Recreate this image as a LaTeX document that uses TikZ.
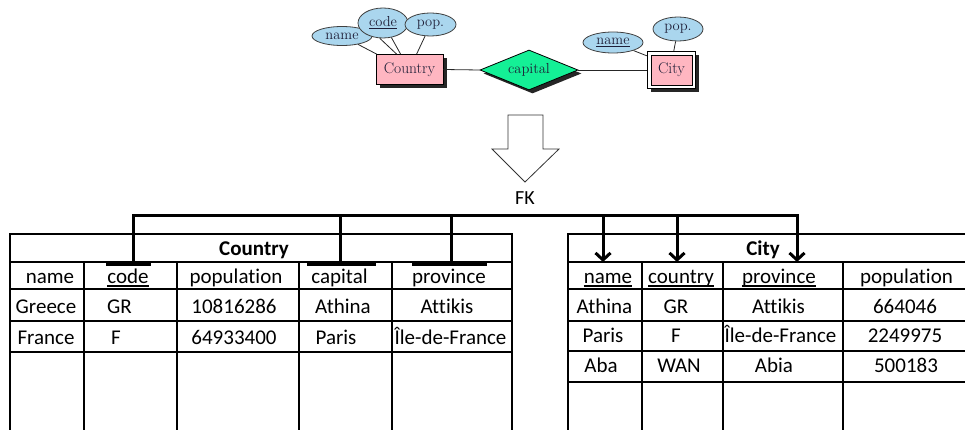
\documentclass[tikz,border=0pt]{standalone}
\usepackage{fontspec}
\newfontfamily\calib[Ligatures=NoCommon]{Carlito}
\usetikzlibrary{shapes.geometric,shadows,fit,backgrounds,arrows.meta}
\definecolor{attrblue}{RGB}{170,214,238}
\definecolor{entpink}{RGB}{255,182,193}
\definecolor{relgreen}{RGB}{20,240,150}
\definecolor{ertext}{RGB}{30,30,55}

\begin{document}
\begin{tikzpicture}[x=1pt,y=-1pt,
  erfont/.style={font=\fontsize{14.5}{17}\selectfont, text=ertext},
  ershadow/.style={drop shadow={shadow xshift=3.5pt, shadow yshift=-3.5pt, fill=black!85, opacity=1}},
  attr/.style={ellipse, draw=black!75, line width=0.8pt, fill=attrblue, inner sep=0, erfont},
  entity/.style={rectangle, draw=black, line width=0.8pt, fill=entpink, inner sep=0, erfont, font=\fontsize{15.5}{18}\selectfont, ershadow},
  relship/.style={diamond, draw=black, line width=0.8pt, fill=relgreen, inner sep=0, aspect=2.45, erfont, ershadow},
  erline/.style={line width=0.8pt, black!85},
  cell/.style={font=\calib\fontsize{21}{25}\selectfont, inner sep=0, anchor=base},
  celltitle/.style={cell, font=\calib\bfseries\fontsize{21}{25}\selectfont},
  grid/.style={line width=2pt},
  uline/.style={line width=2.3pt},
  fk/.style={line width=3pt, line cap=rect, line join=miter},
  fkarrow/.style={fk, line cap=butt, -{Straight Barb[length=7pt, width=15pt, line width=3pt]}},
]
\useasboundingbox (0,0) rectangle (965,430);

% ---------- ER diagram ----------
\node[attr, minimum width=60pt, minimum height=19pt] (cname) at (342,36) {name};
\node[attr, minimum width=50pt, minimum height=30pt] (ccode) at (383,23) {\underline{code}};
\node[attr, minimum width=51pt, minimum height=23pt] (cpop) at (430.5,24.5) {pop.};
\node[entity, minimum width=67pt, minimum height=30pt] (country) at (409.5,69.5) {Country};
\node[relship, minimum width=98pt, minimum height=40pt] (capital) at (529,70) {capital};
\node[rectangle, draw=black, line width=0.8pt, fill=entpink, inner sep=0, minimum width=41pt, minimum height=30pt, erfont, font=\fontsize{15.5}{18}\selectfont] (city) at (671.5,70) {City};
\begin{scope}[on background layer]
  \node[fit=(city), inner sep=3pt, draw=black, line width=1.6pt, fill=white,
        drop shadow={shadow xshift=3.5pt, shadow yshift=-3.5pt, fill=black!85, opacity=1}] (cityframe) {};
\end{scope}
\node[attr, minimum width=60pt, minimum height=21pt] (cyname) at (613,42.5) {\underline{name}};
\node[attr, minimum width=50pt, minimum height=24pt] (cypop) at (678,29) {pop.};

\draw[erline] (cname) -- ([xshift=1pt]country.north west);
\draw[erline] (ccode.258) -- ([xshift=21pt]country.north west);
\draw[erline] (ccode.300) -- ([xshift=25pt]country.north west);
\draw[erline] (cpop) -- ([xshift=41pt]country.north west);
\draw[erline] (country.east) -- (capital.west);
\draw[erline] (capital.east) -- (cityframe.west);
\draw[erline] (cyname) -- ([yshift=-5pt]cityframe.north west);
\draw[erline] (cypop) -- ([xshift=27pt]cityframe.north west);

% ---------- mapping arrow ----------
\draw[line width=0.8pt, black!80, fill=white]
  (508,115) -- (543,115) -- (543,149) -- (559,149) -- (525,182) -- (492,149) -- (508,149) -- cycle;
\node[cell, anchor=center, font=\calib\fontsize{20}{24}\selectfont] (fklabel) at (525,198) {FK};

% ---------- Country table ----------
\draw[grid] (10,440) -- (10,234) -- (512,234) -- (512,440);
\foreach \y in {262,289,321,352} \draw[grid] (10,\y) -- (512,\y);
\foreach \x in {84,177,299,392} \draw[grid] (\x,262) -- (\x,440);

\node[celltitle] (ct-title) at (254,255) {Country};
\node[cell] (ct-name) at (50,283) {name};
\node[cell] (ct-code) at (128,283) {code};
\node[cell] (ct-pop) at (236,283) {population};
\node[cell] (ct-cap) at (339.5,283) {capital};
\node[cell] (ct-prov) at (449,283) {province};
\node[cell] (ct-n1) at (46,313) {Greece};
\node[cell] (ct-c1) at (119.5,313) {GR};
\node[cell] (ct-p1) at (234,313) {10816286};
\node[cell] (ct-k1) at (343,313) {Athina};
\node[cell] (ct-v1) at (447,313) {Attikis};
\node[cell] (ct-n2) at (46,344) {France};
\node[cell] (ct-c2) at (116,344) {F};
\node[cell] (ct-p2) at (234,344) {64933400};
\node[cell] (ct-k2) at (336,344) {Paris};
\node[cell] (ct-v2) at (450.5,344) {Île-de-France};
\draw[uline] ([yshift=-3pt]ct-code.base west) -- ([yshift=-3pt]ct-code.base east);

% ---------- City table ----------
\draw[grid] (568,440) -- (568,234) -- (970,234);
\foreach \y in {262,289,321,351,382} \draw[grid] (568,\y) -- (970,\y);
\foreach \x in {642,723,843} \draw[grid] (\x,262) -- (\x,440);

\node[celltitle] (cy-title) at (763,255) {City};
\node[cell] (cy-name) at (608,283) {name};
\node[cell] (cy-country) at (681,283) {country};
\node[cell] (cy-prov) at (779,283) {province};
\node[cell] (cy-pop) at (906.5,283) {population};
\node[cell] (cy-n1) at (604.5,313) {Athina};
\node[cell] (cy-c1) at (676,313) {GR};
\node[cell] (cy-v1) at (778.5,313) {Attikis};
\node[cell] (cy-p1) at (905,313) {664046};
\node[cell] (cy-n2) at (603,342) {Paris};
\node[cell] (cy-c2) at (676,342) {F};
\node[cell] (cy-v2) at (780.5,342) {Île-de-France};
\node[cell] (cy-p2) at (905,342) {2249975};
\node[cell] (cy-n3) at (601,372.5) {Aba};
\node[cell] (cy-c3) at (679,372.5) {WAN};
\node[cell] (cy-v3) at (774,372.5) {Abia};
\node[cell] (cy-p3) at (906,372.5) {500183};
\foreach \n in {cy-name,cy-country,cy-prov}
  \draw[uline] ([yshift=-3pt]\n.base west) -- ([yshift=-3pt]\n.base east);

% ---------- foreign key connectors ----------
\coordinate (busL) at (133,216);
\coordinate (busR) at (797,216);
\coordinate (tcode) at (133,264);
\coordinate (tcap) at (340,264);
\coordinate (tprov) at (451,264);
\coordinate (hname) at (603,262);
\coordinate (hcountry) at (677,262);
\coordinate (hprov) at (797,262);

\draw[fk] (tcode) -- (busL) -- (busR);
\draw[fk] (tcap |- busL) -- (tcap);
\draw[fk] (tprov |- busL) -- (tprov);
\draw[fk, line cap=butt] (106,264) -- (151,264);
\draw[fk, line cap=butt] (307,264) -- (376,264);
\draw[fk, line cap=butt] (412,264) -- (487,264);
\draw[fkarrow] (hname |- busL) -- (hname);
\draw[fkarrow] (hcountry |- busL) -- (hcountry);
\draw[fkarrow] (busR) -- (hprov);
\end{tikzpicture}
\end{document}
